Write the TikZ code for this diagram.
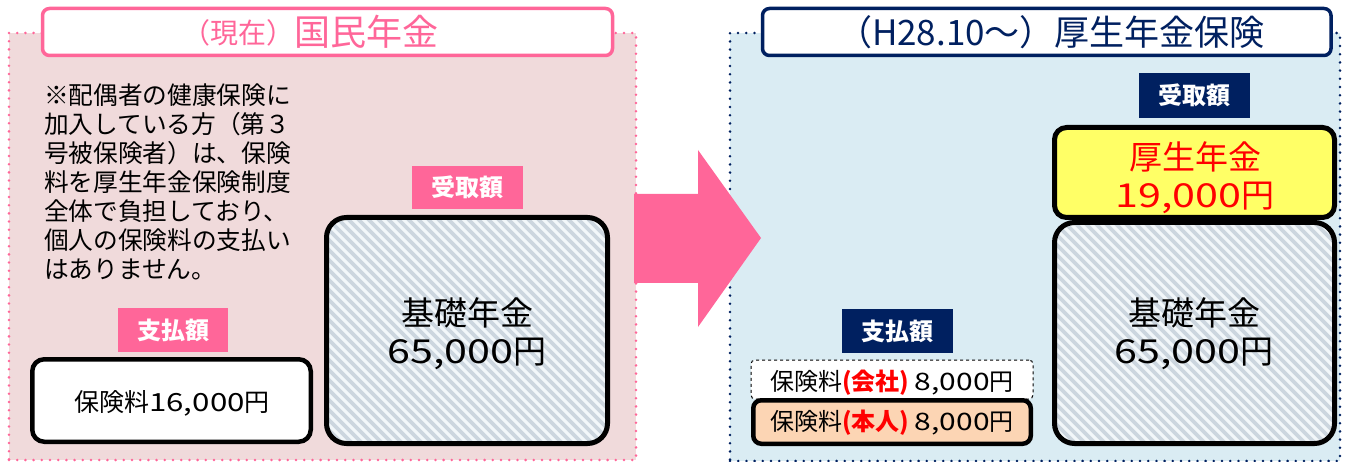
\documentclass[tikz,border=0pt]{standalone}
\usepackage{fontspec}
\setmainfont{Noto Sans CJK JP}
\newfontfamily\digfont{Noto Sans CJK JP}[FakeStretch=1.25]
\definecolor{pinkC}{HTML}{FF6699}
\definecolor{navyC}{HTML}{002060}
\definecolor{panelPink}{HTML}{F0DADB}
\definecolor{panelBlue}{HTML}{DAECF3}
\definecolor{yellowC}{HTML}{FFFF66}
\definecolor{peachC}{HTML}{FCD5B4}
\definecolor{hatchBg}{HTML}{F2F7FA}
\definecolor{hatchLn}{HTML}{CCD6DF}
\newcommand{\myfs}[2]{\fontsize{#1}{#2}\selectfont}
\begin{document}
\begin{tikzpicture}[x=1pt,y=-1pt,
  every node/.style={inner sep=0pt, outer sep=0pt},
  panel/.style={line width=2.8pt, dash pattern=on 0pt off 8.2pt, line cap=round},
  titlebox/.style={draw, line width=3.5pt, fill=white, rounded corners=7pt},
  lab/.style={text=white, font=\myfs{24}{24}\bfseries},
  bigbox/.style={draw=black, line width=5pt, rounded corners=20pt},
  hatch/.style={path picture={
     \fill[hatchBg] (path picture bounding box.north west) rectangle (path picture bounding box.south east);
     \foreach \k in {0,...,62}{
       \draw[hatchLn, line width=3.6pt] ([xshift=\k*10pt-300pt]path picture bounding box.north west) -- ++(320pt,-320pt);
     }}},
  boxtxt/.style={align=center, font=\myfs{33}{38}},
  paytxt/.style={font=\myfs{24}{24}}
]
\useasboundingbox (0,0) rectangle (1346,462);

% panels
\node[panel, fill=panelPink, draw=pinkC, minimum width=627pt, minimum height=427pt] (pL) at (322.5,246.5) {};
\node[panel, fill=panelBlue, draw=navyC, minimum width=610pt, minimum height=428pt] (pR) at (1035,247) {};

% arrow
\fill[pinkC] (634,194) -- (698,194) -- (698,150) -- (761,238) -- (698,327) -- (698,283) -- (634,283) -- cycle;

% titles
\node[titlebox, draw=pinkC, minimum width=570pt, minimum height=47pt] (tL) at (327.5,32) {};
\node[text=pinkC] (tLt) at (310,32) {\raisebox{2pt}{\myfs{28}{28}（現在）}\myfs{36}{36}国民年金};
\node[titlebox, draw=navyC, minimum width=568.5pt, minimum height=47pt] (tR) at (1046.75,32) {};
\node[text=navyC, font=\myfs{35}{35}] (tRt) at (1051,32) {（H28.10～）厚生年金保険};

% note
\node[anchor=north west, align=left, font=\myfs{24.7}{29}] (note) at (44,84)
 {※配偶者の健康保険に\\加入している方（第３\\号被保険者）は、保険\\料を厚生年金保険制度\\全体で負担しており、\\個人の保険料の支払い\\はありません。};

% left labels
\node[lab, fill=pinkC, minimum width=111pt, minimum height=43pt] (rcvL) at (467.5,187.5) {受取額};
\node[lab, fill=pinkC, minimum width=110pt, minimum height=44pt] (payL) at (173,330) {支払額};

% left boxes
\node[bigbox, hatch, minimum width=281pt, minimum height=226pt] (kisoL) at (467,330.5) {};
\node[boxtxt] (kisoLt) at (467,334) {基礎年金\\{\digfont 65,000}円};
\node[draw=black, fill=white, line width=4.5pt, rounded corners=12pt, minimum width=278.5pt, minimum height=82.5pt] (payboxL) at (171.5,400.5) {};
\node[font=\myfs{25}{25}] (payboxLt) at (172,403) {保険料{\digfont 16,000}円};

% right labels
\node[lab, fill=navyC, minimum width=111pt, minimum height=45pt] (rcvR) at (1194.5,95.5) {受取額};
\node[lab, fill=navyC, minimum width=111pt, minimum height=44pt] (payR) at (897.5,331) {支払額};

% right boxes
\node[bigbox, fill=yellowC, rounded corners=12pt, minimum width=280pt, minimum height=90pt] (kosei) at (1194.5,172.5) {};
\node[boxtxt, text=red] (koseit) at (1195,177.5) {厚生年金\\{\digfont 19,000}円};
\node[bigbox, hatch, minimum width=280pt, minimum height=221pt] (kisoR) at (1194.5,333) {};
\node[boxtxt] (kisoRt) at (1194,334) {基礎年金\\{\digfont 65,000}円};

\node[draw=black, fill=white, line width=1pt, dashed, rounded corners=4pt, minimum width=282pt, minimum height=39pt] (comp) at (892,379.5) {};
\node[paytxt] (compt) at (892,383) {保険料{\color{red}\bfseries(会社)} {\digfont 8,000}円};
\node[draw=black, fill=peachC, line width=4.5pt, rounded corners=8pt, minimum width=277.5pt, minimum height=43.5pt] (self) at (892,422) {};
\node[paytxt] (selft) at (892,423) {保険料{\color{red}\bfseries(本人)} {\digfont 8,000}円};
\end{tikzpicture}
\end{document}
